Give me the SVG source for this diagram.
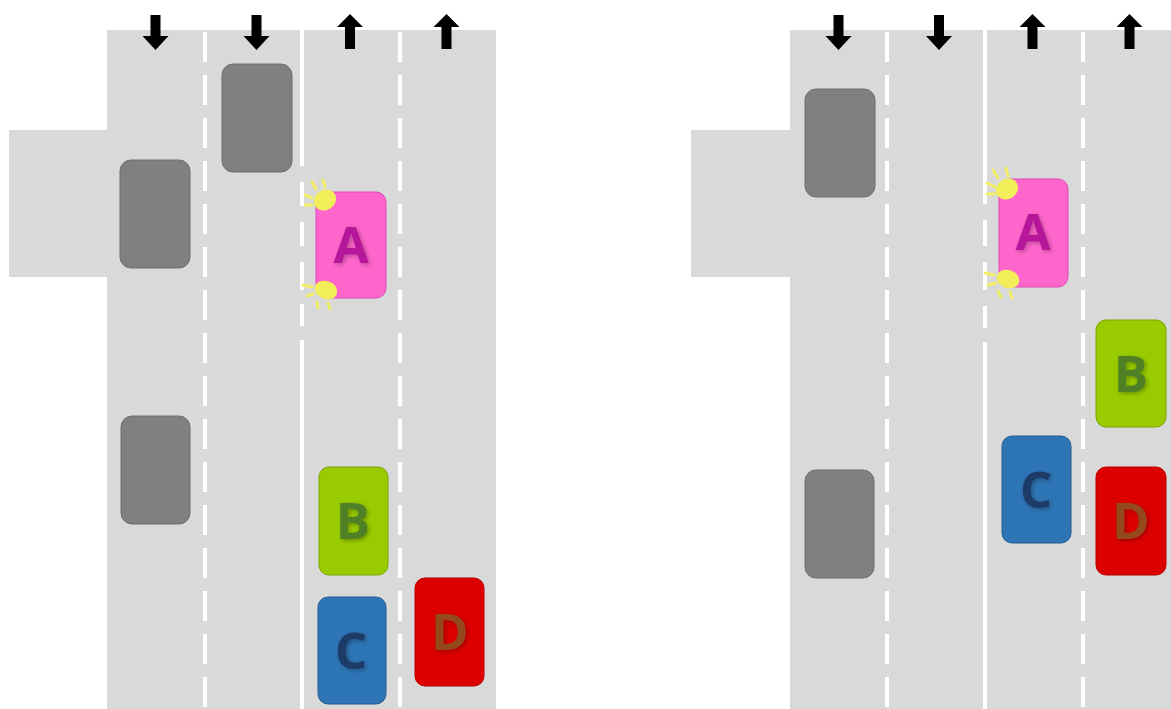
<svg xmlns="http://www.w3.org/2000/svg" width="1171" height="709" viewBox="0 0 1171 709">
<style>
.road{fill:#d9d9d9}
.lane{stroke:#ffffff;stroke-width:4;fill:none}
.dash{stroke-dasharray:30 13}
.arrow{fill:#000000}
.gray{fill:#808080;stroke:#6e6e6e;stroke-width:1}
.carA{fill:#ff66cc;stroke:#e048b4;stroke-width:1}
.carB{fill:#99cc00;stroke:#7aa300;stroke-width:1}
.carC{fill:#2e75b6;stroke:#235d92;stroke-width:1}
.carD{fill:#dd0000;stroke:#b80000;stroke-width:1}
.lbl{font-family:"Open Sans","Liberation Sans",sans-serif;font-weight:700;font-size:51px;text-anchor:middle;filter:url(#sh)}
.blink{fill:#f2ee5a}
.ray{stroke:#f2ee66;stroke-width:3;stroke-linecap:round}
</style>
<defs>
<filter id="sh" x="-30%" y="-30%" width="160%" height="160%">
<feDropShadow dx="1.5" dy="1.5" stdDeviation="2" flood-color="#000000" flood-opacity="0.3"/>
</filter>
<path id="down" d="M-5,15 H5 V36 H13 L0,50 L-13,36 H-5 Z"/>
<path id="up" d="M-5,49 H5 V27 H13 L0,14 L-13,27 H-5 Z"/>
</defs>
<rect width="1171" height="709" fill="#ffffff"/>

<g id="road-left">
<rect class="road" x="107" y="30" width="389" height="679"/>
<rect class="road" x="9" y="130" width="98" height="147"/>
</g>
<g id="road-right">
<rect class="road" x="790" y="30" width="381" height="679"/>
<rect class="road" x="691" y="130" width="99" height="147"/>
</g>

<g id="lane-lines">
<line class="lane dash" x1="205" y1="32" x2="205" y2="709"/>
<line class="lane dash" x1="400" y1="32" x2="400" y2="709"/>
<line class="lane" x1="302" y1="30" x2="302" y2="166"/>
<line class="lane" x1="302" y1="182" x2="302" y2="206"/>
<line class="lane" x1="302" y1="222" x2="302" y2="246"/>
<line class="lane" x1="302" y1="262" x2="302" y2="290"/>
<line class="lane" x1="302" y1="304" x2="302" y2="326"/>
<line class="lane" x1="302" y1="340" x2="302" y2="709"/>

<line class="lane dash" x1="887" y1="32" x2="887" y2="709"/>
<line class="lane dash" x1="1083" y1="32" x2="1083" y2="709"/>
<line class="lane" x1="985" y1="30" x2="985" y2="204"/>
<line class="lane" x1="985" y1="220" x2="985" y2="246"/>
<line class="lane" x1="985" y1="262" x2="985" y2="290"/>
<line class="lane" x1="985" y1="306" x2="985" y2="328"/>
<line class="lane" x1="985" y1="342" x2="985" y2="709"/>
</g>

<g id="arrows">
<use href="#down" class="arrow" x="155.5" y="0"/>
<use href="#down" class="arrow" x="256.5" y="0"/>
<use href="#up" class="arrow" x="350" y="0"/>
<use href="#up" class="arrow" x="446.5" y="0"/>
<use href="#down" class="arrow" x="838.5" y="0"/>
<use href="#down" class="arrow" x="939" y="0"/>
<use href="#up" class="arrow" x="1032.5" y="0"/>
<use href="#up" class="arrow" x="1129.5" y="0"/>
</g>

<g id="gray-car-l1"><rect class="gray" x="222" y="64" width="70" height="108" rx="11"/></g>
<g id="gray-car-l2"><rect class="gray" x="120" y="160" width="70" height="108" rx="11"/></g>
<g id="gray-car-l3"><rect class="gray" x="121" y="416" width="69" height="108" rx="11"/></g>

<g id="car-A-left">
<rect class="carA" x="316" y="192" width="70" height="106" rx="10"/>
<text class="lbl" x="351" y="263" fill="#b5129a">A</text>
<ellipse class="blink" cx="325" cy="200" rx="11.5" ry="10" transform="rotate(-35 325 200)"/>
<line class="ray" x1="312" y1="182" x2="316" y2="189"/>
<line class="ray" x1="323" y1="180" x2="325" y2="187"/>
<line class="ray" x1="305" y1="195" x2="312" y2="198"/>
<line class="ray" x1="305" y1="205" x2="312" y2="205"/>
<ellipse class="blink" cx="326" cy="290" rx="11.5" ry="9" transform="rotate(20 326 290)"/>
<line class="ray" x1="303" y1="285" x2="312" y2="287"/>
<line class="ray" x1="307" y1="296" x2="313" y2="294"/>
<line class="ray" x1="317" y1="302" x2="318" y2="308"/>
<line class="ray" x1="328" y1="303" x2="330" y2="309"/>
</g>
<g id="car-B-left">
<rect class="carB" x="319" y="467" width="69" height="108" rx="10"/>
<text class="lbl" x="353" y="539" fill="#4f8028">B</text>
</g>
<g id="car-C-left">
<rect class="carC" x="318" y="597" width="68" height="107" rx="10"/>
<text class="lbl" x="351" y="669" fill="#1f3a66">C</text>
</g>
<g id="car-D-left">
<rect class="carD" x="415" y="578" width="69" height="108" rx="10"/>
<text class="lbl" x="450" y="650" fill="#944a1a">D</text>
</g>

<g id="gray-car-r1"><rect class="gray" x="805" y="89" width="70" height="108" rx="11"/></g>
<g id="gray-car-r2"><rect class="gray" x="805" y="470" width="69" height="108" rx="11"/></g>

<g id="car-A-right">
<rect class="carA" x="999" y="179" width="69" height="108" rx="10"/>
<text class="lbl" x="1033" y="250" fill="#b5129a">A</text>
<ellipse class="blink" cx="1007" cy="189" rx="11.5" ry="10" transform="rotate(-35 1007 189)"/>
<line class="ray" x1="993" y1="170" x2="998" y2="178"/>
<line class="ray" x1="1006" y1="168" x2="1008" y2="176"/>
<line class="ray" x1="987" y1="183" x2="995" y2="187"/>
<line class="ray" x1="987" y1="194" x2="995" y2="194"/>
<ellipse class="blink" cx="1008" cy="279" rx="11.5" ry="9" transform="rotate(20 1008 279)"/>
<line class="ray" x1="985" y1="273" x2="994" y2="275"/>
<line class="ray" x1="988" y1="285" x2="996" y2="283"/>
<line class="ray" x1="998" y1="291" x2="1001" y2="297"/>
<line class="ray" x1="1010" y1="292" x2="1012" y2="298"/>
</g>
<g id="car-B-right">
<rect class="carB" x="1096" y="320" width="70" height="107" rx="10"/>
<text class="lbl" x="1131" y="392" fill="#4f8028">B</text>
</g>
<g id="car-C-right">
<rect class="carC" x="1002" y="436" width="69" height="107" rx="10"/>
<text class="lbl" x="1036" y="508" fill="#1f3a66">C</text>
</g>
<g id="car-D-right">
<rect class="carD" x="1096" y="467" width="70" height="108" rx="10"/>
<text class="lbl" x="1131" y="539" fill="#944a1a">D</text>
</g>
</svg>
